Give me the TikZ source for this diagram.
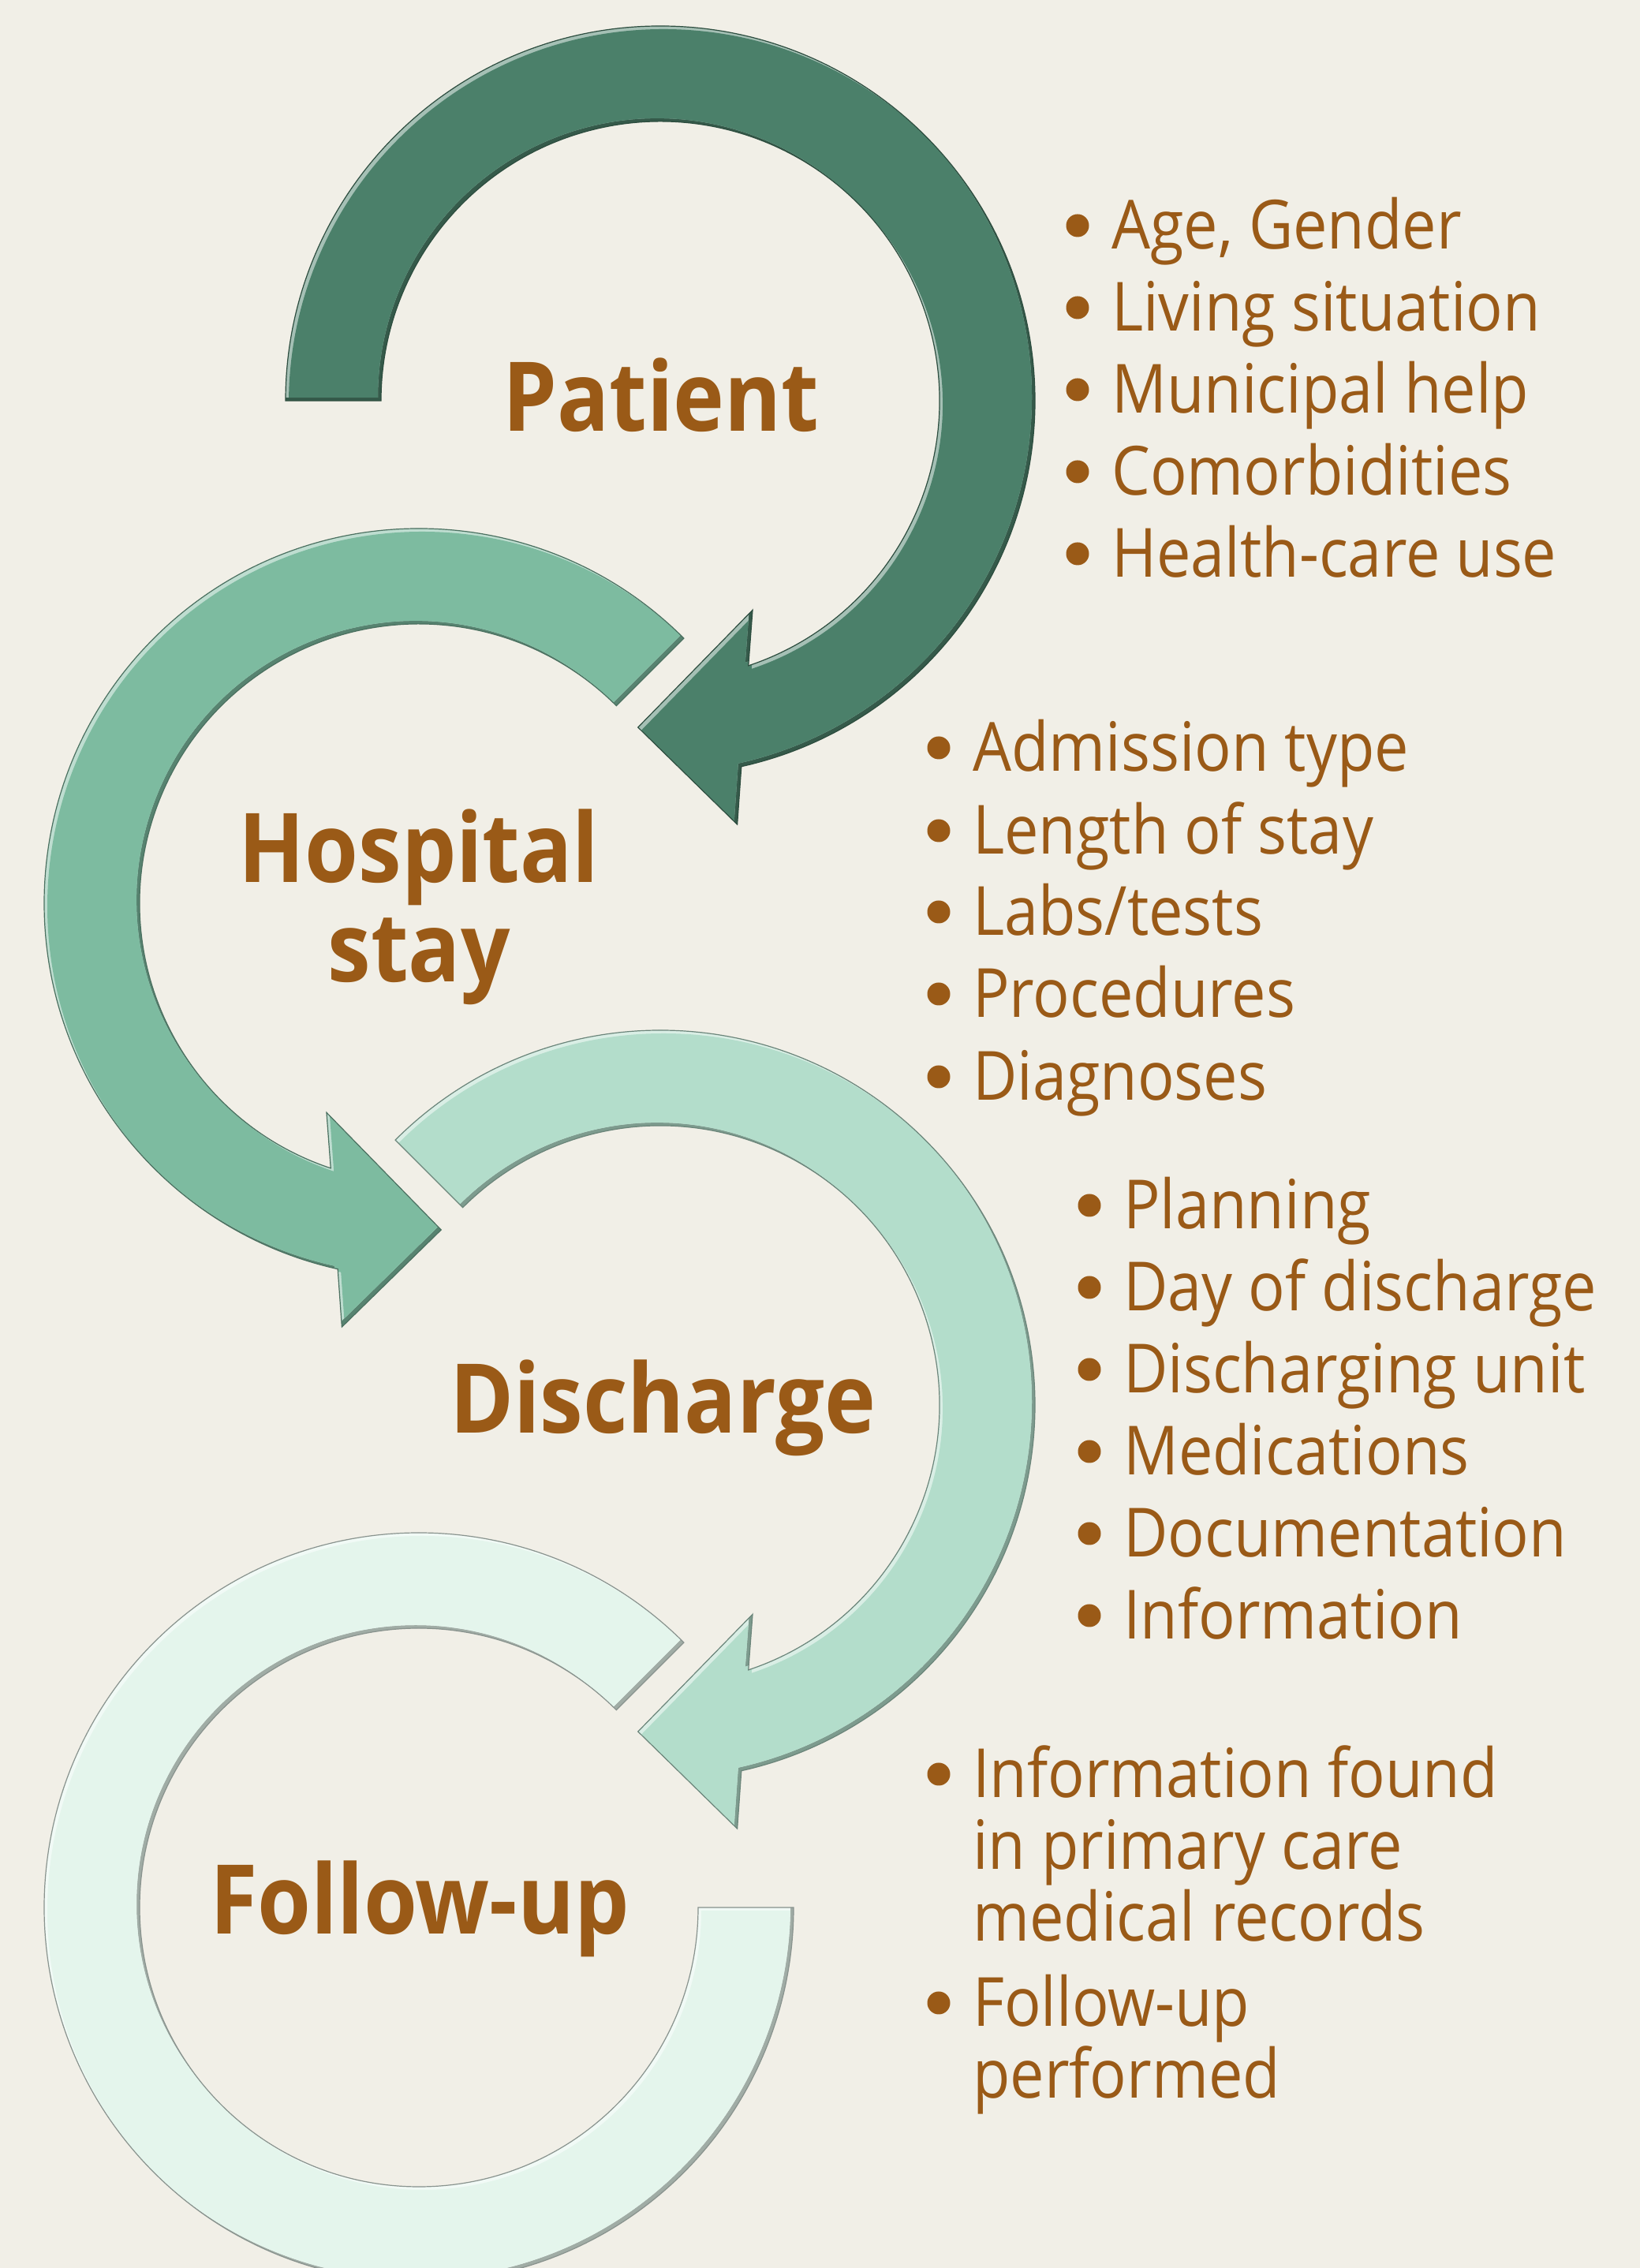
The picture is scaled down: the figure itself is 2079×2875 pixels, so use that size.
\documentclass[tikz,border=0pt]{standalone}
\usepackage{fontspec}
\setmainfont{Open Sans}
\newfontfamily\labelfont{Open Sans}[FakeStretch=0.90]
\newfontfamily\listfont{Open Sans}[FakeStretch=0.90]

\definecolor{bg}{HTML}{F1EFE7}
\definecolor{txt}{HTML}{9A5A17}
\definecolor{cA}{HTML}{4B806A}
\definecolor{cB}{HTML}{7DBBA0}
\definecolor{cC}{HTML}{B3DDCB}
\definecolor{cD}{HTML}{E4F5EC}

% curved arrows, in coordinates local to each ring's centre
\def\arrowA{(180:475) arc[start angle=180, end angle=-77.5, radius=475] -- (-79.7:546) -- (-93.9:415) -- (-66.2:290) -- (-71.6:354) arc[start angle=-71.6, end angle=180, radius=354] -- cycle}
\def\arrowC{(135:475) arc[start angle=135, end angle=-77.5, radius=475] -- (-79.7:546) -- (-93.9:415) -- (-66.2:290) -- (-71.6:354) arc[start angle=-71.6, end angle=135, radius=354] -- cycle}
\def\arrowB{(45:475) arc[start angle=45, end angle=257.5, radius=475] -- (259.7:546) -- (273.9:415) -- (246.2:290) -- (251.6:354) arc[start angle=251.6, end angle=45, radius=354] -- cycle}
\def\ringD{(45:475) arc[start angle=45, end angle=360, radius=475] -- (0:354) arc[start angle=360, end angle=45, radius=354] -- cycle}

% filled shape with a soft bevel: light on upper-left edges, dark on lower-right edges
\newcommand\bevelfill[2]{%
  \begin{scope}
    \clip #1;
    \fill[#2!70!black] #1;
    \begin{scope}[shift={(-4,4)}]
      \fill[#2!50!white] #1;
      \clip #1;
      \begin{scope}[shift={(8,-8)}]
        \fill[#2] #1;
      \end{scope}
    \end{scope}
  \end{scope}
  \draw[#2!60!black, line width=1.2] #1;
}

\newcommand\bul[1]{\fill[txt] ([shift={(-43,30)}]#1.base west) circle[radius=14.5];}

\tikzset{
  stagelabel/.style={text=txt, inner sep=0, anchor=base,
    font=\labelfont\bfseries\fontsize{122}{146}\selectfont},
  item/.style={text=txt, inner sep=0, anchor=base west,
    font=\listfont\fontsize{86}{104}\selectfont},
}

\begin{document}
\begin{tikzpicture}[x=1pt, y=1pt]
\useasboundingbox (0,0) rectangle (2079,2875);
\clip (0,0) rectangle (2079,2875);
\fill[bg] (0,0) rectangle (2079,2875);

% rings
\begin{scope}[shift={(531,457)}]  \bevelfill{\ringD}{cD}  \end{scope}
\begin{scope}[shift={(837,1094)}] \bevelfill{\arrowC}{cC} \end{scope}
\begin{scope}[shift={(531,1730)}] \bevelfill{\arrowB}{cB} \end{scope}
\begin{scope}[shift={(837,2367)}] \bevelfill{\arrowA}{cA} \end{scope}

% stage labels
\node[stagelabel] (patient)   at (838,2328) {Patient};
\node[stagelabel] (hospital)  at (531,1756) {Hospital};
\node[stagelabel] (stay)      at (531,1630) {stay};
\node[stagelabel] (discharge) at (840,1058) {Discharge};
\node[stagelabel] (followup)  at (532,423)  {Follow-up};

% patient items
\node[item] (p1) at (1409,2559) {Age, Gender};
\node[item] (p2) at (1409,2455) {Living situation};
\node[item] (p3) at (1409,2351) {Municipal help};
\node[item] (p4) at (1409,2247) {Comorbidities};
\node[item] (p5) at (1409,2143) {Health-care use};
\bul{p1}\bul{p2}\bul{p3}\bul{p4}\bul{p5}

% hospital stay items
\node[item] (h1) at (1233,1897) {Admission type};
\node[item] (h2) at (1233,1792) {Length of stay};
\node[item] (h3) at (1233,1689) {Labs/tests};
\node[item] (h4) at (1233,1585) {Procedures};
\node[item] (h5) at (1233,1480) {Diagnoses};
\bul{h1}\bul{h2}\bul{h3}\bul{h4}\bul{h5}

% discharge items
\node[item] (d1) at (1424,1317) {Planning};
\node[item] (d2) at (1424,1213) {Day of discharge};
\node[item] (d3) at (1424,1109) {Discharging unit};
\node[item] (d4) at (1424,1005) {Medications};
\node[item] (d5) at (1424,901)  {Documentation};
\node[item] (d6) at (1424,797)  {Information};
\bul{d1}\bul{d2}\bul{d3}\bul{d4}\bul{d5}\bul{d6}

% follow-up items
\node[item] (f1)  at (1233,596) {Information found};
\node[item] (f1b) at (1233,505) {in primary care};
\node[item] (f1c) at (1233,414) {medical records};
\node[item] (f2)  at (1233,306) {Follow-up};
\node[item] (f2b) at (1233,215) {performed};
\bul{f1}\bul{f2}
\end{tikzpicture}
\end{document}
